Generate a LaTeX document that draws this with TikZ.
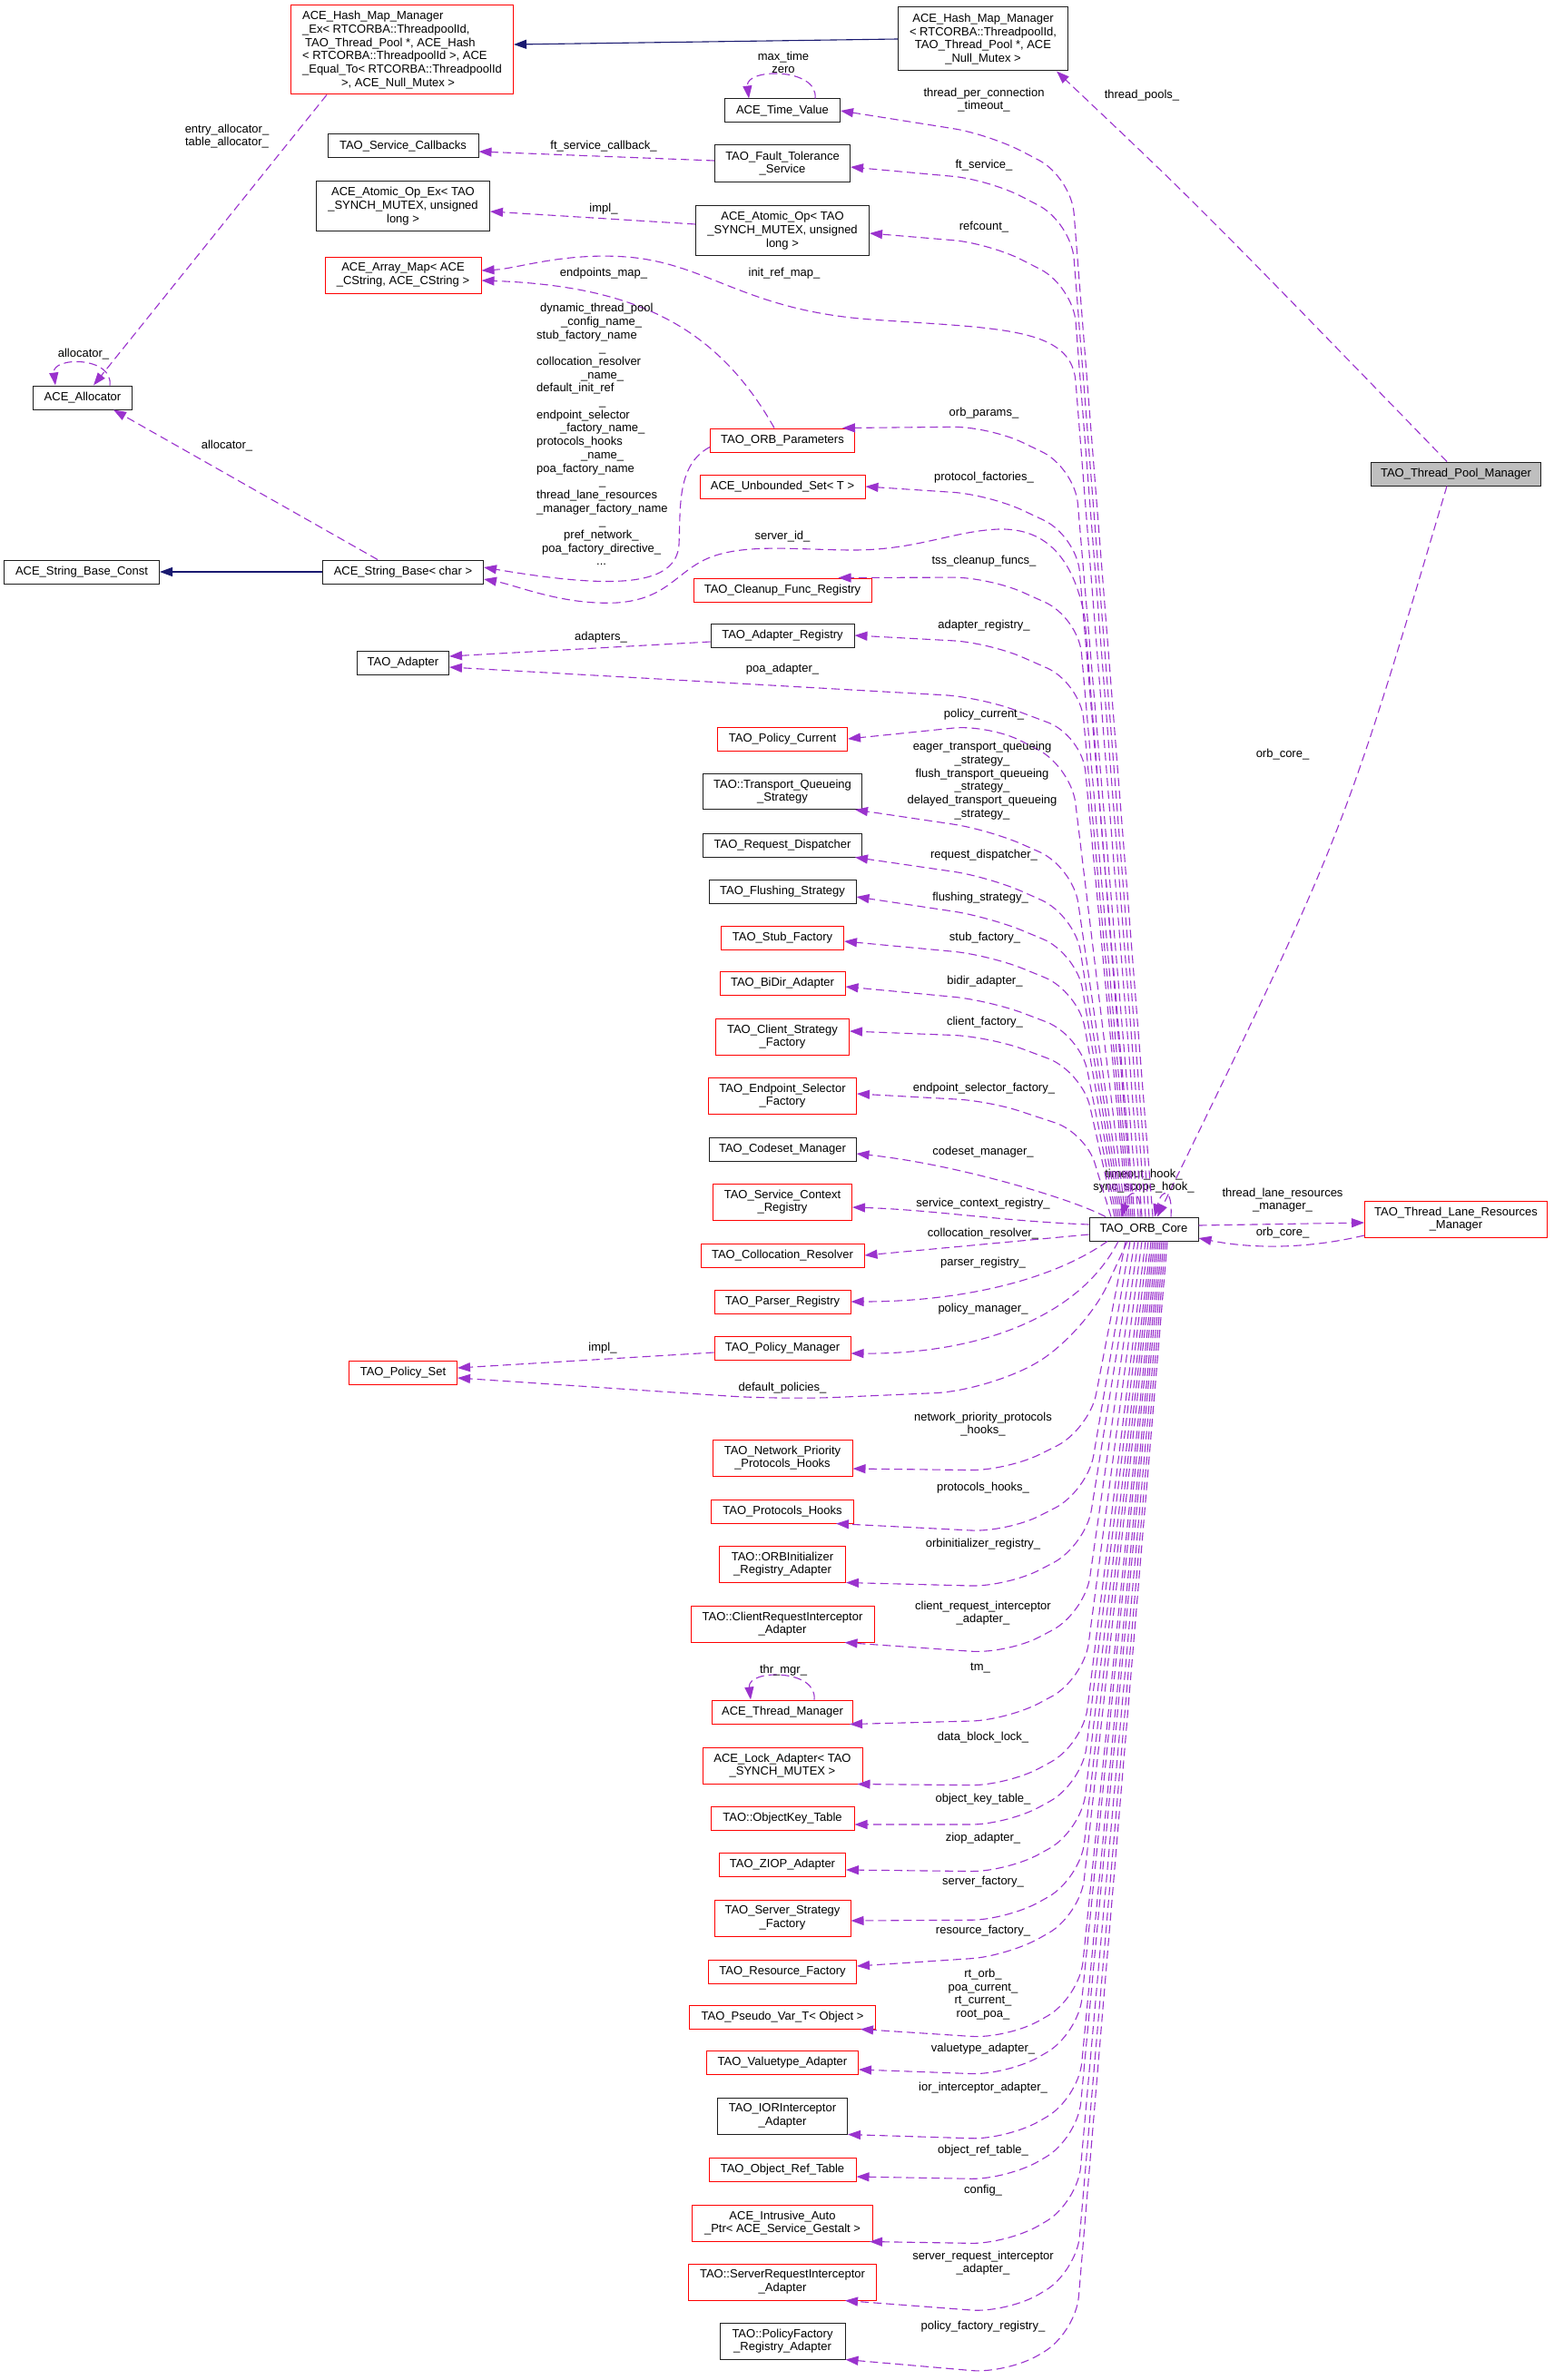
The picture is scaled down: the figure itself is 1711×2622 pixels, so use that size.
\documentclass[tikz,border=0pt]{standalone}
\usepackage{fontspec}
\setmainfont{Liberation Sans}
\usepackage{tikz}
\usepackage{xcolor}
\usetikzlibrary{arrows.meta,positioning,calc}
\definecolor{Frame}{HTML}{1E1E1E}
\definecolor{Missing}{HTML}{FF0000}
\definecolor{Focus}{HTML}{BFBFBF}
\definecolor{Member}{HTML}{9A32CD}
\definecolor{Base}{HTML}{191970}
\newcommand{\dxfont}{\fontsize{13}{14.7}\selectfont}
\tikzset{
  box/.style={draw=Frame,fill=white,line width=1pt,minimum height=26pt,inner xsep=5pt,inner ysep=3pt,align=center,font=\dxfont,text=black},
  redbox/.style={box,draw=Missing},
  focus/.style={box,fill=Focus},
  arr/.style={-{Triangle[length=14pt,width=10pt]},draw=Member,line width=1.1pt,dash pattern=on 9pt off 5pt},
  derive/.style={-{Triangle[length=14pt,width=10pt]},draw=Base,line width=1.1pt},
  lbl/.style={font=\dxfont,text=black,align=center,inner sep=0pt}
}

\begin{document}
\begin{tikzpicture}[x=1pt,y=-1pt]
  \fill[white] (0,0) rectangle (1711,2622);
  \useasboundingbox (0,0) rectangle (1711,2622);

  \node[redbox,minimum width=245pt,minimum height=98pt,align=left] (hashex) at (443,55) {ACE\_Hash\_Map\_Manager\\\_Ex< RTCORBA::ThreadpoolId,\\\hspace*{3pt}TAO\_Thread\_Pool *, ACE\_Hash\\< RTCORBA::ThreadpoolId >, ACE\\\_Equal\_To< RTCORBA::ThreadpoolId\\\hspace*{43pt}>, ACE\_Null\_Mutex >};
  \node[box,minimum width=166pt] (svccb) at (444,161) {TAO\_Service\_Callbacks};
  \node[box,minimum width=191pt,minimum height=55pt] (atomicex) at (444,227) {ACE\_Atomic\_Op\_Ex< TAO\\\_SYNCH\_MUTEX, unsigned\\long >};
  \node[redbox,minimum width=172pt,minimum height=40pt] (arraymap) at (444,303) {ACE\_Array\_Map< ACE\\\_CString, ACE\_CString >};
  \node[box,minimum width=109pt] (allocator) at (91,438) {ACE\_Allocator};
  \node[box,minimum width=171pt] (strconst) at (90,630) {ACE\_String\_Base\_Const};
  \node[box,minimum width=177pt] (strbase) at (444,630) {ACE\_String\_Base< char >};
  \node[box,minimum width=101pt] (adapter) at (444,730) {TAO\_Adapter};
  \node[redbox,minimum width=119pt] (policyset) at (444,1512) {TAO\_Policy\_Set};

  \node[box,minimum width=187pt,minimum height=70pt] (hashmap) at (1083,43) {ACE\_Hash\_Map\_Manager\\< RTCORBA::ThreadpoolId,\\TAO\_Thread\_Pool *, ACE\\\_Null\_Mutex >};
  \node[box,minimum width=127pt] (timevalue) at (862,122) {ACE\_Time\_Value};
  \node[box,minimum width=149pt,minimum height=41pt] (ftservice) at (862,180) {TAO\_Fault\_Tolerance\\\_Service};
  \node[box,minimum width=191pt,minimum height=54pt] (atomicop) at (862,254) {ACE\_Atomic\_Op< TAO\\\_SYNCH\_MUTEX, unsigned\\long >};
  \node[redbox,minimum width=159pt] (orbparams) at (862,485) {TAO\_ORB\_Parameters};
  \node[redbox,minimum width=182pt] (unbset) at (862,536) {ACE\_Unbounded\_Set< T >};
  \node[redbox,minimum width=196pt] (cleanup) at (862,650) {TAO\_Cleanup\_Func\_Registry};
  \node[box,minimum width=158pt] (adapterreg) at (862,700) {TAO\_Adapter\_Registry};
  \node[redbox,minimum width=143pt] (policycur) at (862,814) {TAO\_Policy\_Current};
  \node[box,minimum width=175pt,minimum height=39pt] (tqstrategy) at (862,872) {TAO::Transport\_Queueing\\\_Strategy};
  \node[box,minimum width=175pt] (reqdisp) at (862,931) {TAO\_Request\_Dispatcher};
  \node[box,minimum width=162pt] (flushing) at (862,982) {TAO\_Flushing\_Strategy};
  \node[redbox,minimum width=135pt] (stubfac) at (862,1033) {TAO\_Stub\_Factory};
  \node[redbox,minimum width=138pt] (bidir) at (862,1083) {TAO\_BiDir\_Adapter};
  \node[redbox,minimum width=147pt,minimum height=40pt] (clientfac) at (862,1142) {TAO\_Client\_Strategy\\\_Factory};
  \node[redbox,minimum width=163pt,minimum height=40pt] (endpointfac) at (862,1207) {TAO\_Endpoint\_Selector\\\_Factory};
  \node[box,minimum width=162pt] (codeset) at (862,1266) {TAO\_Codeset\_Manager};
  \node[redbox,minimum width=153pt,minimum height=40pt] (svcctx) at (862,1324) {TAO\_Service\_Context\\\_Registry};
  \node[redbox,minimum width=180pt] (colloc) at (862,1383) {TAO\_Collocation\_Resolver};
  \node[redbox,minimum width=150pt] (parser) at (862,1434) {TAO\_Parser\_Registry};
  \node[redbox,minimum width=150pt] (policymgr) at (862,1485) {TAO\_Policy\_Manager};
  \node[redbox,minimum width=154pt,minimum height=40pt] (netprio) at (862,1606) {TAO\_Network\_Priority\\\_Protocols\_Hooks};
  \node[redbox,minimum width=157pt] (protohooks) at (862,1665) {TAO\_Protocols\_Hooks};
  \node[redbox,minimum width=139pt,minimum height=40pt] (orbinit) at (862,1723) {TAO::ORBInitializer\\\_Registry\_Adapter};
  \node[redbox,minimum width=202pt,minimum height=40pt] (clientreq) at (862,1789) {TAO::ClientRequestInterceptor\\\_Adapter};
  \node[redbox,minimum width=155pt] (thrmgr) at (862,1886) {ACE\_Thread\_Manager};
  \node[redbox,minimum width=176pt,minimum height=40pt] (lockadapter) at (862,1945) {ACE\_Lock\_Adapter< TAO\\\_SYNCH\_MUTEX >};
  \node[redbox,minimum width=158pt] (objkey) at (862,2003) {TAO::ObjectKey\_Table};
  \node[redbox,minimum width=139pt] (ziop) at (862,2054) {TAO\_ZIOP\_Adapter};
  \node[redbox,minimum width=150pt,minimum height=40pt] (serverfac) at (862,2113) {TAO\_Server\_Strategy\\\_Factory};
  \node[redbox,minimum width=163pt] (resfac) at (862,2172) {TAO\_Resource\_Factory};
  \node[redbox,minimum width=205pt] (pseudovar) at (862,2222) {TAO\_Pseudo\_Var\_T< Object >};
  \node[redbox,minimum width=167pt] (valuetype) at (862,2272) {TAO\_Valuetype\_Adapter};
  \node[box,minimum width=143pt,minimum height=40pt] (iorint) at (862,2331) {TAO\_IORInterceptor\\\_Adapter};
  \node[redbox,minimum width=162pt] (objref) at (862,2390) {TAO\_Object\_Ref\_Table};
  \node[redbox,minimum width=199pt,minimum height=40pt] (intrusive) at (862,2449) {ACE\_Intrusive\_Auto\\\_Ptr< ACE\_Service\_Gestalt >};
  \node[redbox,minimum width=207pt,minimum height=40pt] (serverreq) at (862,2514) {TAO::ServerRequestInterceptor\\\_Adapter};
  \node[box,minimum width=138pt,minimum height=40pt] (policyfac) at (862,2579) {TAO::PolicyFactory\\\_Registry\_Adapter};

  \node[focus,minimum width=187pt] (poolmgr) at (1604,522) {TAO\_Thread\_Pool\_Manager};
  \node[box,minimum width=120pt] (core) at (1260,1354) {TAO\_ORB\_Core};
  \node[redbox,minimum width=201pt,minimum height=40pt] (tlrm) at (1604,1343) {TAO\_Thread\_Lane\_Resources\\\_Manager};

  \draw[derive] (hashmap.west) -- ([yshift=6pt]hashex.east);
  \draw[derive] (strbase.west) -- (strconst.east);

  \draw[arr] ([xshift=40pt]hashex.south west) -- ([xshift=12pt]allocator.north);
  \node[lbl] (lentry) at (250,150) {entry\_allocator\_\\table\_allocator\_};
  \draw[arr] ([xshift=30pt]allocator.north) .. controls +(4,-32) and +(-4,-32) .. ([xshift=-30pt]allocator.north);
  \node[lbl] (lalloc1) at (92,390) {allocator\_};
  \draw[arr] ([xshift=-28pt]strbase.north) -- ([xshift=34pt]allocator.south);
  \node[lbl] (lalloc2) at (250,491) {allocator\_};
  \draw[arr] ([xshift=36pt]timevalue.north) .. controls +(4,-34) and +(-4,-34) .. ([xshift=-37pt]timevalue.north);
  \node[lbl] (lmaxtime) at (863,69) {max\_time\\zero};
  \draw[arr] ([yshift=3pt]ftservice.west) -- ([yshift=-6pt]svccb.east);
  \node[lbl] (lftcb) at (665,161) {ft\_service\_callback\_};
  \draw[arr] ([yshift=7pt]atomicop.west) -- ([yshift=-6pt]atomicex.east);
  \node[lbl] (limpl1) at (665,230) {impl\_};
  \draw[arr] ([xshift=-9pt]orbparams.north) .. controls (790,360) and (700,315) .. ([yshift=-6pt]arraymap.east);
  \node[lbl] (lendpoints) at (665,301) {endpoints\_map\_};
  \draw[arr] ([yshift=6pt]orbparams.south west) .. controls (745,512) and (750,560) .. (748,600) .. controls (745,645) and (680,650) .. ([yshift=5pt]strbase.east);
  \node[lbl,anchor=north west,align=left] (lnames) at (591,334) {\hspace*{4pt}dynamic\_thread\_pool\\\hspace*{27pt}\_config\_name\_\\stub\_factory\_name\\\hspace*{69pt}\_\\collocation\_resolver\\\hspace*{49pt}\_name\_\\default\_init\_ref\\\hspace*{69pt}\_\\endpoint\_selector\\\hspace*{26pt}\_factory\_name\_\\protocols\_hooks\\\hspace*{49pt}\_name\_\\poa\_factory\_name\\\hspace*{69pt}\_\\thread\_lane\_resources\\\_manager\_factory\_name\\\hspace*{69pt}\_\\\hspace*{30pt}pref\_network\_\\\hspace*{6pt}poa\_factory\_directive\_\\\hspace*{66pt}...};
  \draw[arr] ([yshift=-7pt]adapterreg.west) -- ([yshift=7pt]adapter.east);
  \node[lbl] (ladapters) at (662,702) {adapters\_};
  \draw[arr] ([yshift=-5pt]policymgr.west) -- ([yshift=5pt]policyset.east);
  \node[lbl] (limpl2) at (664,1485) {impl\_};
  \draw[arr] ([xshift=35pt]thrmgr.north) .. controls +(4,-34) and +(-4,-34) .. ([xshift=-35pt]thrmgr.north);
  \node[lbl] (lthrmgr) at (863,1840) {thr\_mgr\_};

  \draw[arr] ([xshift=-10pt]poolmgr.north) .. controls (1320,226) .. ([xshift=-13pt]hashmap.south east);
  \node[lbl] (lpools) at (1258,105) {thread\_pools\_};
  \draw[arr] ([xshift=-10pt]poolmgr.south) .. controls (1480,920) .. ([xshift=15pt]core.north);
  \node[lbl] (lorbcore2) at (1413,831) {orb\_core\_};
  \draw[arr] ([yshift=4pt]core.east) -- ([yshift=-4pt]tlrm.west);
  \node[lbl] (ltlrm) at (1413,1322) {thread\_lane\_resources\\\_manager\_};
  \draw[arr] ([yshift=-18pt]tlrm.west) .. controls (1440,1376) and (1380,1376) .. ([yshift=-10pt]core.east);
  \node[lbl] (lorbcore1) at (1413,1358) {orb\_core\_};
  \draw[arr] ([xshift=30pt]core.north) .. controls +(2,-32) and +(8,-32) .. ([xshift=12pt]core.north);
  \draw[arr] ([xshift=-4pt]core.north) .. controls +(2,-32) and +(8,-32) .. ([xshift=-24pt]core.north);
  \node[lbl] (lhooks) at (1260,1301) {timeout\_hook\_\\sync\_scope\_hook\_};

  \draw[arr,rounded corners=40pt] ([xshift=10pt]core.north) -- (1180,195) -- (1090,148) -- (timevalue.east);
  \node[lbl] (ltimeout) at (1084,110) {thread\_per\_connection\\\_timeout\_};
  \draw[arr,rounded corners=40pt] ([xshift=6pt]core.north) -- (1180,245) -- (1090,198) -- ([yshift=-4pt]ftservice.east);
  \node[lbl] (lftsvc) at (1084,182) {ft\_service\_};
  \draw[arr,rounded corners=40pt] ([xshift=2pt]core.north) -- (1182,315) -- (1090,268) -- ([yshift=-3pt]atomicop.east);
  \node[lbl] (lrefcount) at (1084,250) {refcount\_};
  \draw[arr] ([xshift=-2pt]core.north) -- (1185,420) .. controls (1180,360) and (1100,362) .. (960,352) .. controls (820,342) and (780,290) .. (690,283) .. controls (620,278) and (570,296) .. ([yshift=5pt]arraymap.east);
  \node[lbl] (linitref) at (864,301) {init\_ref\_map\_};
  \draw[arr,rounded corners=40pt] ([xshift=-6pt]core.north) -- (1184,515) -- (1090,470) -- ([xshift=-14pt]orbparams.north east);
  \node[lbl] (lorbparams) at (1084,455) {orb\_params\_};
  \draw[arr,rounded corners=40pt] ([xshift=-10pt]core.north) -- (1186,590) -- (1090,545) -- (unbset.east);
  \node[lbl] (lprotofac) at (1084,526) {protocol\_factories\_};
  \draw[arr] ([xshift=-12pt]core.north) -- (1195,680) .. controls (1180,600) and (1140,582) .. (1100,583) .. controls (1050,585) and (1010,606) .. (940,606) .. controls (880,606) and (820,598) .. (780,615) .. controls (745,630) and (735,660) .. (680,664) .. controls (620,667) and (570,645) .. ([yshift=-8pt]strbase.east);
  \node[lbl] (lserverid) at (862,591) {server\_id\_};
  \draw[arr,rounded corners=40pt] ([xshift=-14pt]core.north) -- (1188,680) -- (1090,636) -- ([xshift=-37pt]cleanup.north east);
  \node[lbl] (ltss) at (1084,618) {tss\_cleanup\_funcs\_};
  \draw[arr,rounded corners=40pt] ([xshift=-16pt]core.north) -- (1190,752) -- (1090,708) -- (adapterreg.east);
  \node[lbl] (ladapterreg) at (1084,689) {adapter\_registry\_};
  \draw[arr,rounded corners=40pt] ([xshift=-18pt]core.north) -- (1192,810) -- (1080,768) -- ([yshift=-5pt]adapter.east);
  \node[lbl] (lpoa) at (862,737) {poa\_adapter\_};
  \draw[arr,rounded corners=40pt] ([xshift=-20pt]core.north) -- (1180,845) -- (1090,798) -- (policycur.east);
  \node[lbl] (lpolcur) at (1084,787) {policy\_current\_};
  \draw[arr,rounded corners=40pt] ([xshift=-22pt]core.north) -- (1182,955) -- (1090,914) -- ([xshift=-8pt]tqstrategy.south east);
  \node[lbl] (ltq) at (1082,860) {eager\_transport\_queueing\\\_strategy\_\\flush\_transport\_queueing\\\_strategy\_\\delayed\_transport\_queueing\\\_strategy\_};
  \draw[arr,rounded corners=40pt] ([xshift=-24pt]core.north) -- (1184,1008) -- (1090,966) -- ([xshift=-8pt]reqdisp.south east);
  \node[lbl] (lreqdisp) at (1084,942) {request\_dispatcher\_};
  \draw[arr,rounded corners=40pt] ([xshift=-26pt]core.north) -- (1186,1050) -- (1090,1010) -- ([yshift=-6pt]flushing.east);
  \node[lbl] (lflush) at (1080,989) {flushing\_strategy\_};
  \draw[arr,rounded corners=40pt] ([xshift=-28pt]core.north) -- (1188,1092) -- (1090,1052) -- ([yshift=-4pt]stubfac.east);
  \node[lbl] (lstub) at (1085,1033) {stub\_factory\_};
  \draw[arr,rounded corners=40pt] ([xshift=-30pt]core.north) -- (1190,1140) -- (1090,1102) -- ([yshift=-4pt]bidir.east);
  \node[lbl] (lbidir) at (1085,1081) {bidir\_adapter\_};
  \draw[arr,rounded corners=40pt] ([xshift=-32pt]core.north) -- (1192,1180) -- (1090,1142) -- ([yshift=6pt]clientfac.east);
  \node[lbl] (lclient) at (1085,1126) {client\_factory\_};
  \draw[arr,rounded corners=35pt] ([xshift=-36pt]core.north) -- (1196,1248) -- (1090,1213) -- ([yshift=2pt]endpointfac.east);
  \node[lbl] (lendpoint) at (1084,1199) {endpoint\_selector\_factory\_};
  \draw[arr] ([xshift=-42pt]core.north) .. controls (1180,1320) and (1050,1282) .. ([yshift=-5pt]codeset.east);
  \node[lbl] (lcodeset) at (1083,1269) {codeset\_manager\_};
  \draw[arr] ([yshift=5pt]core.west) .. controls (1100,1345) and (1030,1333) .. ([yshift=-6pt]svcctx.east);
  \node[lbl] (lsvcctx) at (1083,1326) {service\_context\_registry\_};
  \draw[arr] ([yshift=-6pt]core.west) -- (colloc.east);
  \node[lbl] (lcolloc) at (1083,1359) {collocation\_resolver\_};
  \draw[arr] ([xshift=-40pt]core.south) .. controls (1160,1410) and (1060,1434) .. (parser.east);
  \node[lbl] (lparser) at (1083,1391) {parser\_registry\_};
  \draw[arr] ([xshift=-28pt]core.south) .. controls (1190,1450) and (1080,1492) .. ([yshift=-6pt]policymgr.east);
  \node[lbl] (lpolmgr) at (1083,1442) {policy\_manager\_};
  \draw[arr,rounded corners=60pt] ([xshift=-18pt]core.south) -- (1195,1470) -- (1090,1532) -- (862,1542) -- ([yshift=-6pt]policyset.east);
  \node[lbl] (ldefpol) at (862,1529) {default\_policies\_};

  \draw[arr,rounded corners=40pt] ([xshift=-20pt]core.south) -- (1200,1575) -- (1110,1620) -- ([yshift=-12pt]netprio.east);
  \node[lbl] (lnetprio) at (1083,1569) {network\_priority\_protocols\\\_hooks\_};
  \draw[arr,rounded corners=40pt] ([xshift=-15pt]core.south) -- (1198,1643) -- (1110,1688) -- ([xshift=-20pt]protohooks.south east);
  \node[lbl] (lprotohooks) at (1083,1639) {protocols\_hooks\_};
  \draw[arr,rounded corners=40pt] ([xshift=-10pt]core.south) -- (1196,1703) -- (1110,1748) -- (orbinit.south east);
  \node[lbl] (lorbinit) at (1083,1701) {orbinitializer\_registry\_};
  \draw[arr,rounded corners=40pt] ([xshift=-6pt]core.south) -- (1195,1777) -- (1110,1822) -- ([xshift=-33pt]clientreq.south east);
  \node[lbl] (lclientreq) at (1083,1777) {client\_request\_interceptor\\\_adapter\_};
  \draw[arr,rounded corners=40pt] ([xshift=-2pt]core.south) -- (1194,1850) -- (1110,1895) -- ([xshift=-4pt]thrmgr.south east);
  \node[lbl] (ltm) at (1080,1838) {tm\_};
  \draw[arr,rounded corners=40pt] ([xshift=2pt]core.south) -- (1193,1922) -- (1110,1967) -- ([xshift=-6pt]lockadapter.south east);
  \node[lbl] (llock) at (1083,1914) {data\_block\_lock\_};
  \draw[arr,rounded corners=40pt] ([xshift=5pt]core.south) -- (1192,1965) -- (1110,2010) -- ([yshift=-7pt]objkey.east);
  \node[lbl] (lobjkey) at (1083,1982) {object\_key\_table\_};
  \draw[arr,rounded corners=40pt] ([xshift=8pt]core.south) -- (1191,2017) -- (1110,2062) -- ([yshift=-6pt]ziop.east);
  \node[lbl] (lziop) at (1083,2025) {ziop\_adapter\_};
  \draw[arr,rounded corners=40pt] ([xshift=10pt]core.south) -- (1190,2070) -- (1110,2115) -- ([yshift=-3pt]serverfac.east);
  \node[lbl] (lserverfac) at (1083,2073) {server\_factory\_};
  \draw[arr,rounded corners=40pt] ([xshift=12pt]core.south) -- (1190,2110) -- (1110,2155) -- ([yshift=6pt]resfac.east);
  \node[lbl] (lresfac) at (1083,2127) {resource\_factory\_};
  \draw[arr,rounded corners=40pt] ([xshift=14pt]core.south) -- (1189,2201) -- (1110,2246) -- ([xshift=-17pt]pseudovar.south east);
  \node[lbl] (lrt) at (1083,2197) {rt\_orb\_\\poa\_current\_\\rt\_current\_\\root\_poa\_};
  \draw[arr,rounded corners=40pt] ([xshift=16pt]core.south) -- (1188,2241) -- (1110,2286) -- ([yshift=-8pt]valuetype.east);
  \node[lbl] (lvaluetype) at (1083,2257) {valuetype\_adapter\_};
  \draw[arr,rounded corners=40pt] ([xshift=18pt]core.south) -- (1188,2312) -- (1110,2357) -- (iorint.south east);
  \node[lbl] (lior) at (1083,2300) {ior\_interceptor\_adapter\_};
  \draw[arr,rounded corners=40pt] ([xshift=20pt]core.south) -- (1187,2356) -- (1110,2401) -- ([yshift=-8pt]objref.east);
  \node[lbl] (lobjref) at (1083,2369) {object\_ref\_table\_};
  \draw[arr,rounded corners=40pt] ([xshift=22pt]core.south) -- (1187,2427) -- (1110,2472) -- ([xshift=-4pt]intrusive.south east);
  \node[lbl] (lconfig) at (1083,2413) {config\_};
  \draw[arr,rounded corners=40pt] ([xshift=24pt]core.south) -- (1186,2503) -- (1110,2548) -- ([xshift=-35pt]serverreq.south east);
  \node[lbl] (lserverreq) at (1083,2493) {server\_request\_interceptor\\\_adapter\_};
  \draw[arr,rounded corners=40pt] ([xshift=26pt]core.south) -- (1185,2570) -- (1110,2615) -- (policyfac.south east);
  \node[lbl] (lpolfac) at (1083,2563) {policy\_factory\_registry\_};
\end{tikzpicture}
\end{document}
